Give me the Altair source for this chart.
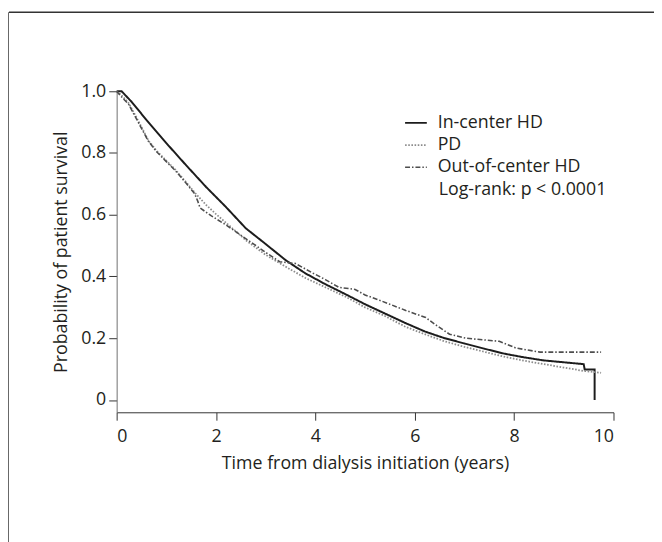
import altair as alt
import pandas as pd

# ---- data (Kaplan-Meier curves) ----
groups = ["In-center HD", "PD", "Out-of-center HD"]

t_in = [0, 0.1, 0.3, 0.6, 1.0, 1.4, 1.8, 2.2, 2.6, 3.0, 3.4, 3.8, 4.2, 4.6, 5.0,
        5.4, 5.8, 6.2, 6.6, 7.0, 7.4, 7.8, 8.2, 8.6, 9.0, 9.4, 9.42, 9.62, 9.62]
s_in = [1.0, 1.0, 0.966, 0.907, 0.832, 0.76, 0.69, 0.625, 0.556, 0.505, 0.453, 0.41,
        0.375, 0.343, 0.31, 0.28, 0.25, 0.222, 0.2, 0.183, 0.166, 0.15, 0.138, 0.128,
        0.122, 0.116, 0.099, 0.099, 0.0]

t_pd = [0, 0.08, 0.24, 0.45, 0.64, 0.8, 1.0, 1.17, 1.4, 1.57, 1.8, 2.0, 2.28, 2.62,
        3.0, 3.42, 3.8, 4.2, 4.6, 5.0, 5.4, 5.8, 6.2, 6.6, 7.0, 7.4, 7.8, 8.2, 8.6,
        9.0, 9.4, 9.75]
s_pd = [1.0, 0.99, 0.962, 0.9, 0.84, 0.808, 0.775, 0.748, 0.705, 0.672, 0.632, 0.602,
        0.563, 0.515, 0.47, 0.43, 0.395, 0.365, 0.335, 0.3, 0.272, 0.238, 0.213, 0.19,
        0.172, 0.156, 0.14, 0.127, 0.116, 0.105, 0.094, 0.088]

t_oc = [0, 0.08, 0.24, 0.45, 0.64, 0.8, 1.0, 1.17, 1.4, 1.57, 1.63, 1.68, 1.9, 2.22,
        2.56, 3.0, 3.28, 3.6, 3.95, 4.2, 4.47, 4.8, 5.0, 5.26, 5.66, 5.82, 6.22, 6.45,
        6.7, 7.03, 7.7, 8.04, 8.52, 9.75]
s_oc = [1.0, 0.985, 0.958, 0.895, 0.838, 0.805, 0.772, 0.745, 0.702, 0.668, 0.645,
        0.622, 0.597, 0.565, 0.527, 0.478, 0.448, 0.442, 0.411, 0.39, 0.365, 0.358,
        0.34, 0.325, 0.30, 0.29, 0.267, 0.24, 0.213, 0.2, 0.19, 0.168, 0.155, 0.155]

x_ticks = [0, 2, 4, 6, 8, 10]
y_ticks = [0, 0.2, 0.4, 0.6, 0.8, 1.0]

rows = []
for g, ts, ss in zip(groups, [t_in, t_pd, t_oc], [s_in, s_pd, s_oc]):
    for i, (t, s) in enumerate(zip(ts, ss)):
        rows.append({"group": g, "t": t, "s": s, "order": i})
df = pd.DataFrame(rows)

FONT = "Open Sans"
TXT = "#231f20"

colors = ["#1c1c1c", "#8c8c8c", "#4d4d4d"]
dashes = [[1, 0], [1.6, 1.6], [5, 2, 1.5, 2]]
widths = [2.0, 1.6, 1.6]

legend_opts = dict(orient="none", legendX=291, legendY=20, title=None,
                   symbolType="stroke", symbolSize=484, symbolStrokeWidth=1.6,
                   labelOffset=10, rowPadding=1.5, padding=0)

lines = alt.Chart(df).mark_line(clip=False).encode(
    x=alt.X("t:Q",
            scale=alt.Scale(domain=[0, 10], nice=False, zero=False),
            axis=alt.Axis(values=x_ticks, title="Time from dialysis initiation (years)",
                          domainColor="#333333", labelPadding=8, titlePadding=9)),
    y=alt.Y("s:Q",
            scale=alt.Scale(domain=[-0.04, 1.0], nice=False, zero=False),
            axis=alt.Axis(values=y_ticks, title="Probability of patient survival",
                          labelExpr="datum.value == 0 ? '0' : format(datum.value, '.1f')",
                          domainColor="#707070", labelPadding=3, titlePadding=10)),
    color=alt.Color("group:N", scale=alt.Scale(domain=groups, range=colors),
                    legend=alt.Legend(**legend_opts)),
    strokeDash=alt.StrokeDash("group:N", scale=alt.Scale(domain=groups, range=dashes),
                              legend=alt.Legend(**legend_opts)),
    strokeWidth=alt.StrokeWidth("group:O", scale=alt.Scale(domain=groups, range=widths),
                                legend=None),
    order="order:Q",
)

note = alt.Chart(pd.DataFrame({"label": ["Log-rank: p < 0.0001"]})).mark_text(
    align="left", baseline="alphabetic", font=FONT, fontSize=18, color=TXT
).encode(x=alt.value(326), y=alt.value(105), text="label:N")

frame_df = pd.DataFrame({"k": [0]})
frame_top = alt.Chart(frame_df).mark_rule(color="#333333", strokeWidth=1.5, clip=False).encode(
    x=alt.value(-109), x2=alt.value(600), y=alt.value(-80))
frame_left = alt.Chart(frame_df).mark_rule(color="#333333", strokeWidth=1.5, clip=False).encode(
    x=alt.value(-110), y=alt.value(-80), y2=alt.value(470))

chart = alt.layer(frame_top, frame_left, lines, note).properties(
    width=503, height=325,
    autosize=alt.AutoSizeParams(type="none"),
    padding={"left": 110, "top": 81, "right": 41, "bottom": 128},
).configure_view(stroke=None).configure_axis(
    grid=False, labelFont=FONT, titleFont=FONT, labelFontSize=18, titleFontSize=18,
    labelColor=TXT, titleColor=TXT, titleFontWeight="normal", tickSize=8,
    tickColor="#333333", domainWidth=1,
).configure_legend(labelFont=FONT, labelFontSize=18, labelColor=TXT)

chart.save("out.html", embed_options={"renderer": "svg", "actions": False})
